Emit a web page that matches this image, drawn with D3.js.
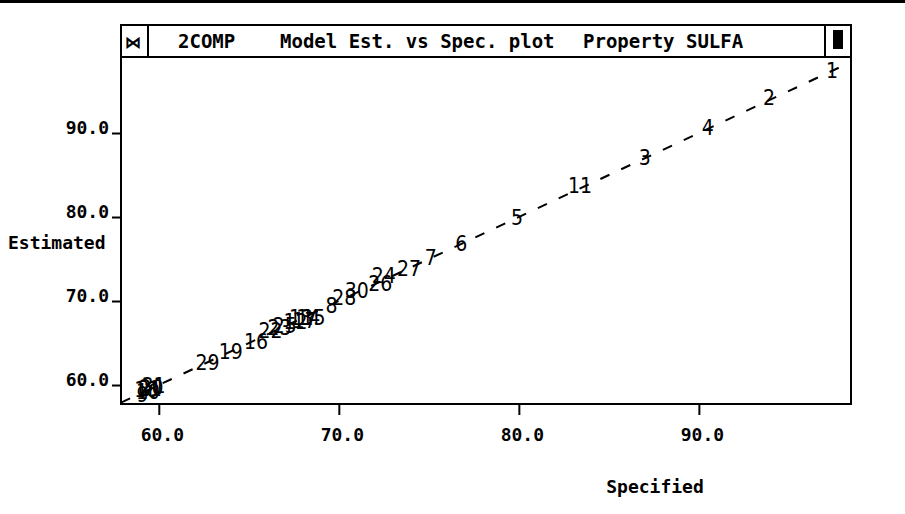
<!DOCTYPE html>
<html>
<head>
<meta charset="utf-8">
<script src="https://cdn.jsdelivr.net/npm/d3@7"></script>
<style>
  html, body { margin: 0; padding: 0; background: #fff; }
  svg { display: block; }
  .mono { font-family: "DejaVu Sans Mono", "Liberation Mono", monospace; font-weight: bold; fill: #000; }
  .pt { font-family: "DejaVu Sans", sans-serif; font-stretch: condensed; fill: #000; }
</style>
</head>
<body>
<svg id="chart" width="905" height="514"></svg>
<script>
// Sample numbers and their specified vs. model-estimated SULFA values
const sampleLabels = ["1","2","4","3","11","5","6","7","27","24","26","30","28","8",
                      "12","13","14","15","17","22","23","25","16","19","29",
                      "9","10","18","20","21","31"];
const specified = [97.4, 93.9, 90.5, 87.0, 83.4, 79.9, 76.8, 75.1, 73.9, 72.5, 72.3, 71.0, 70.3, 69.6,
                   67.6, 67.9, 68.3, 68.6, 68.1, 66.2, 66.7, 67.0, 65.4, 64.0, 62.7,
                   59.1, 59.4, 59.3, 59.6, 59.5, 59.7];
const estimated = [97.5, 94.2, 90.7, 87.1, 83.7, 80.0, 76.9, 75.2, 73.9, 73.0, 72.1, 71.3, 70.4, 69.5,
                   67.6, 68.0, 68.1, 68.1, 67.7, 66.5, 66.9, 67.1, 65.2, 64.0, 62.7,
                   58.9, 59.2, 59.5, 59.7, 59.6, 59.9];

// Axis ticks and the identity reference line
const xTicks = [60, 70, 80, 90];
const yTicks = [60, 70, 80, 90];
const identityEnds = [57.9, 98.4];

const titleParts = ["2COMP", "Model Est. vs Spec. plot", "Property SULFA"];

const svg = d3.select("#chart");

// Frame geometry
const frameL = 121, frameR = 851, frameT = 25, barB = 57, frameB = 404;

const x = d3.scaleLinear().domain([57.9, 98.45]).range([frameL, frameR]);
const y = d3.scaleLinear().domain([57.74, 99.05]).range([frameB, barB]);

// Rule across the top of the page
svg.append("line").attr("x1", 0).attr("x2", 905).attr("y1", 1.5).attr("y2", 1.5)
  .attr("stroke", "#000").attr("stroke-width", 3);

// Window title bar
const bar = svg.append("g");
bar.append("rect").attr("x", frameL).attr("y", frameT).attr("width", frameR - frameL).attr("height", barB - frameT)
  .attr("fill", "none").attr("stroke", "#000").attr("stroke-width", 2);
bar.append("line").attr("x1", 148).attr("x2", 148).attr("y1", frameT).attr("y2", barB)
  .attr("stroke", "#000").attr("stroke-width", 2);
bar.append("line").attr("x1", 825).attr("x2", 825).attr("y1", frameT).attr("y2", barB)
  .attr("stroke", "#000").attr("stroke-width", 2);
bar.append("text").attr("class", "mono").attr("x", 133).attr("y", 48)
  .attr("text-anchor", "middle").style("font-size", "16px").text("⋈");
bar.append("rect").attr("x", 833).attr("y", 30).attr("width", 10).attr("height", 19).attr("fill", "#000");
const titleX = [178, 280, 583];
titleParts.forEach((t, i) => {
  bar.append("text").attr("class", "mono").attr("x", titleX[i]).attr("y", 48)
    .style("font-size", "19px").text(t);
});

// Plot frame
svg.append("rect").attr("x", frameL).attr("y", barB).attr("width", frameR - frameL).attr("height", frameB - barB)
  .attr("fill", "none").attr("stroke", "#000").attr("stroke-width", 2);

// X axis
const xAxis = svg.append("g").attr("transform", `translate(0,${frameB})`)
  .call(d3.axisBottom(x).tickValues(xTicks).tickSize(11).tickFormat(d3.format(".1f")));
xAxis.select(".domain").remove();
xAxis.selectAll(".tick line").attr("stroke-width", 2);
xAxis.selectAll(".tick text").attr("class", "mono").attr("x", 3).attr("y", 37).attr("dy", 0)
  .style("font-size", "18px").attr("fill", "#000");

// Y axis
const yAxis = svg.append("g").attr("transform", `translate(${frameL},0)`)
  .call(d3.axisLeft(y).tickValues(yTicks).tickSize(9).tickFormat(d3.format(".1f")));
yAxis.select(".domain").remove();
yAxis.selectAll(".tick line").attr("stroke-width", 2);
yAxis.selectAll(".tick text").attr("class", "mono").attr("x", -12).attr("dy", 0)
  .style("font-size", "18px").attr("fill", "#000");

// Axis titles
svg.append("text").attr("class", "mono").attr("x", 8).attr("y", 249)
  .style("font-size", "18px").text("Estimated");
svg.append("text").attr("class", "mono").attr("x", 655).attr("y", 493)
  .attr("text-anchor", "middle").style("font-size", "18px").text("Specified");

// Identity line (estimated = specified)
svg.append("line")
  .attr("x1", x(identityEnds[0])).attr("y1", y(identityEnds[0]))
  .attr("x2", x(identityEnds[1])).attr("y2", y(identityEnds[1]))
  .attr("stroke", "#000").attr("stroke-width", 2).attr("stroke-dasharray", "10,13");

// Sample number labels at each point
const pts = sampleLabels.map((l, i) => ({ l, sx: specified[i], ey: estimated[i] }));
svg.append("g").selectAll("text").data(pts).join("text")
  .attr("class", "pt")
  .attr("x", d => x(d.sx)).attr("y", d => y(d.ey))
  .attr("dy", "0.36em").attr("text-anchor", "middle")
  .style("font-size", "21px")
  .text(d => d.l);
</script>
</body>
</html>
